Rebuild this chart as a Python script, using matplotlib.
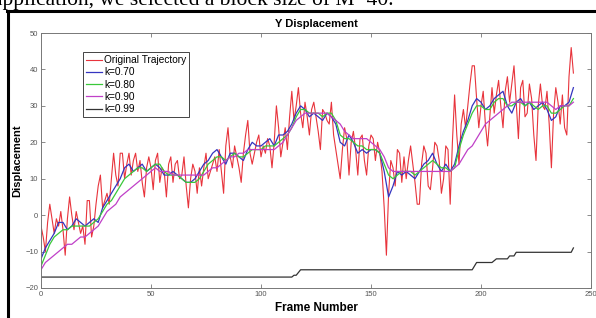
import matplotlib.pyplot as plt
import numpy as np

plt.rcParams["font.family"] = ["Liberation Sans", "DejaVu Sans"]

# Original trajectory, one value per frame (0..242)
original = [
    -3, -6, -10, -2, 3, -1, -5, -1, -3, 1,
    -4, -11, -1, 5, 0, -4, 1, -2, -5, -3,
    -8, 4, 4, -6, -3, 3, 8, 11, 2, 4,
    6, 3, 10, 17, 11, 8, 17, 17, 10, 14,
    17, 11, 15, 17, 12, 15, 9, 5, 13, 16,
    13, 7, 15, 17, 9, 13, 12, 5, 14, 16,
    9, 14, 15, 10, 11, 16, 8, 2, 10, 14,
    12, 6, 13, 8, 13, 17, 10, 12, 14, 16,
    12, 18, 12, 6, 19, 24, 16, 13, 19, 16,
    13, 9, 17, 22, 26, 17, 14, 17, 20, 22,
    16, 19, 17, 21, 19, 13, 20, 30, 24, 16,
    20, 24, 18, 27, 34, 26, 30, 35, 28, 24,
    31, 27, 22, 29, 31, 27, 23, 18, 29, 28,
    26, 25, 31, 22, 18, 14, 10, 18, 24, 21,
    11, 20, 23, 18, 11, 21, 22, 15, 11, 19,
    22, 21, 15, 20, 17, 12, 2, -11, 6, 15,
    13, 8, 18, 17, 9, 16, 10, 15, 19, 14,
    9, 3, 3, 14, 19, 17, 8, 7, 13, 20,
    19, 15, 6, 10, 19, 18, 3, 20, 33, 22,
    14, 25, 29, 24, 30, 36, 41, 41, 32, 24,
    30, 34, 25, 19, 27, 35, 28, 33, 37, 30,
    24, 34, 38, 31, 36, 41, 31, 21, 35, 37,
    27, 28, 36, 32, 22, 15, 30, 36, 30, 29,
    34, 25, 13, 28, 35, 31, 25, 33, 24, 22,
    38, 46, 39,
]

# Filtered trajectories, read every second frame (0, 2, ..., 242)
k070 = [
    -12, -9, -7, -5, -2, -2, -4, -3, -1, -2,
    -3, -2, -1, -2, 2, 4, 6, 8, 10, 13,
    14, 12, 13, 14, 12, 13, 14, 13, 11, 11,
    12, 11, 10, 9, 9, 10, 12, 14, 15, 17,
    18, 16, 14, 17, 17, 16, 15, 18, 20, 19,
    19, 20, 21, 19, 22, 22, 23, 25, 28, 30,
    29, 27, 28, 27, 26, 28, 27, 25, 20, 19,
    22, 20, 17, 18, 17, 18, 18, 17, 12, 5,
    8, 12, 11, 12, 11, 10, 12, 14, 15, 17,
    14, 12, 14, 12, 14, 19, 23, 26, 30, 32,
    31, 29, 30, 32, 33, 34, 30, 28, 31, 32,
    30, 31, 29, 30, 31, 29, 26, 27, 30, 30,
    31, 35,
]
k080 = [
    -14, -11, -8, -6, -5, -4, -4, -3, -3, -3,
    -3, -3, -2, -1, 1, 3, 4, 6, 8, 10,
    11, 12, 13, 13, 12, 13, 14, 14, 12, 11,
    11, 11, 10, 9, 9, 9, 10, 12, 14, 15,
    16, 16, 15, 16, 17, 16, 16, 17, 18, 18,
    18, 19, 19, 19, 20, 21, 22, 24, 27, 29,
    29, 28, 28, 28, 27, 28, 28, 26, 22, 21,
    21, 20, 19, 19, 18, 18, 18, 17, 14, 11,
    10, 11, 12, 12, 12, 11, 12, 13, 14, 15,
    14, 13, 13, 12, 13, 18, 22, 25, 28, 30,
    30, 29, 29, 31, 32, 32, 30, 30, 31, 31,
    30, 31, 30, 29, 30, 30, 28, 28, 29, 30,
    30, 32,
]
k090 = [
    -15, -13, -12, -11, -10, -9, -8, -8, -7, -6,
    -6, -5, -4, -3, -1, 1, 2, 3, 5, 6,
    7, 8, 9, 10, 11, 12, 13, 12, 12, 12,
    11, 11, 11, 11, 11, 11, 11, 11, 12, 13,
    13, 14, 15, 16, 16, 17, 17, 18, 18, 18,
    18, 18, 18, 18, 19, 20, 22, 24, 26, 27,
    28, 28, 28, 28, 28, 28, 27, 26, 25, 23,
    22, 21, 21, 21, 21, 20, 19, 18, 16, 13,
    12, 12, 12, 12, 12, 12, 12, 12, 12, 12,
    12, 12, 12, 12, 13, 14, 16, 18, 19, 21,
    23, 25, 26, 27, 28, 29, 30, 31, 31, 31,
    31, 31, 31, 31, 31, 31, 30, 29, 30, 30,
    30, 31,
]
# k=0.99 is a staircase, given by its corner points
k099_frames = [0, 114, 115, 116, 118, 196, 198, 205, 207, 212, 213, 215, 216, 241, 242]
k099 = [-17, -17, -16.5, -16.5, -15, -15, -13, -13, -12, -12, -11.2, -11.2, -10.2, -10.2, -9]

frames = np.arange(len(original))
frames_f = np.arange(0, 2 * len(k070), 2)

fig = plt.figure(figsize=(5.96, 3.18), dpi=100)

# the page around the screenshot
fig.text(-0.012, 1.0, "application, we selected a block size of M=40.",
         family="Liberation Serif", fontsize=15.5, va="center", ha="left")
fig.add_artist(plt.Line2D([0.0134, 0.0134], [0.0, 0.965], color="black", lw=2.2))
fig.add_artist(plt.Line2D([0.0118, 1.0], [0.965, 0.965], color="black", lw=2.2))

ax = fig.add_axes([41 / 596, 30 / 318, 550 / 596, 255 / 318])
ax.plot(frames, original, color="#e8343c", lw=0.8, label="Original Trajectory")
ax.plot(frames_f, k070, color="#3535c0", lw=0.9, label="k=0.70")
ax.plot(frames_f, k080, color="#3ac83a", lw=0.9, label="k=0.80")
ax.plot(frames_f, k090, color="#c040c8", lw=0.9, label="k=0.90")
ax.plot(k099_frames, k099, color="#333333", lw=0.9, label="k=0.99")

ax.set_xlim(0, 250)
ax.set_ylim(-20, 50)
ax.set_xticks(np.arange(0, 251, 50))
ax.set_yticks(np.arange(-20, 51, 10))
ax.tick_params(direction="in", length=3, width=0.6, labelsize=5.5,
               labelcolor="#555555", color="#777777", top=True, right=True, pad=2)
for s in ax.spines.values():
    s.set_color("#777777")
    s.set_linewidth(0.7)

ax.set_title("Y Displacement", fontsize=8, fontweight="bold", pad=4)
ax.set_xlabel("Frame Number", fontsize=8.5, fontweight="bold", labelpad=3)
ax.set_ylabel("Displacement", fontsize=8, fontweight="bold")
ax.yaxis.set_label_coords(-0.034, 0.5)

leg = ax.legend(loc="upper left", bbox_to_anchor=(0.076, 0.925), borderaxespad=0,
                fontsize=7.3, fancybox=False, framealpha=1, edgecolor="#444444",
                handlelength=1.6, handletextpad=0.2, labelspacing=0.22,
                borderpad=0.3)
leg.get_frame().set_linewidth(0.7)

fig.savefig("out.png", dpi=100)
